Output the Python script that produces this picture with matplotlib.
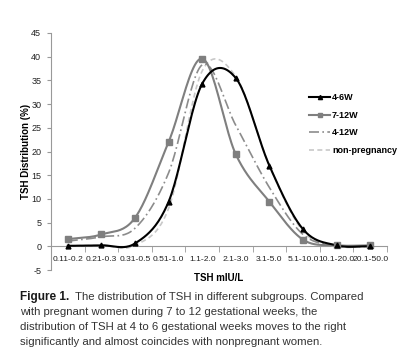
import numpy as np
import matplotlib.pyplot as plt
from matplotlib.lines import Line2D

plt.rcParams['font.family'] = ['Liberation Sans Narrow', 'Liberation Sans', 'DejaVu Sans']
plt.rcParams['axes.unicode_minus'] = False

# TSH ranges (mIU/L) on the x axis
categories = ['0.11-0.2', '0.21-0.3', '0.31-0.5', '0.51-1.0', '1.1-2.0',
              '2.1-3.0', '3.1-5.0', '5.1-10.0', '10.1-20.0', '20.1-50.0']
w4_6 = [0.1, 0.2, 0.6, 9.4, 34.3, 35.5, 17.0, 3.6, 0.2, 0.0]
w7_12 = [1.5, 2.5, 6.0, 22.0, 39.6, 19.4, 9.4, 1.4, 0.2, 0.2]
w4_12 = [1.1, 2.0, 3.8, 15.5, 38.3, 25.5, 12.4, 2.5, 0.1, 0.0]
nonpreg = [0.1, 0.2, 0.2, 8.0, 37.0, 35.8, 17.0, 3.2, 0.0, 0.0]


def smooth(y, n=24):
    # catmull-rom curve through the points, like excel's smoothed line
    y = np.asarray(y, float)
    x = np.arange(len(y), dtype=float)
    px = np.concatenate([[2 * x[0] - x[1]], x, [2 * x[-1] - x[-2]]])
    py = np.concatenate([[2 * y[0] - y[1]], y, [2 * y[-1] - y[-2]]])
    xs, ys = [], []
    t = np.linspace(0, 1, n)
    for i in range(1, len(px) - 2):
        for p, out in ((px, xs), (py, ys)):
            p0, p1, p2, p3 = p[i - 1], p[i], p[i + 1], p[i + 2]
            out.extend(0.5 * ((2 * p1) + (-p0 + p2) * t
                              + (2 * p0 - 5 * p1 + 4 * p2 - p3) * t ** 2
                              + (-p0 + 3 * p1 - 3 * p2 + p3) * t ** 3))
    return np.array(xs), np.array(ys)


fig = plt.figure(figsize=(4.05, 3.58), dpi=100)
ax = fig.add_axes([51 / 405, 1 - 270 / 358, 336 / 405, 237 / 358])

idx = np.arange(len(categories))
series = [
    (w4_6, '4-6W', dict(color='black', lw=1.5, ls='-'), '^', 'black'),
    (w7_12, '7-12W', dict(color='#7f7f7f', lw=1.5, ls='-'), 's', '#7f7f7f'),
    (w4_12, '4-12W', dict(color='#8c8c8c', lw=1.2, ls=(0, (6, 2, 1, 2))), None, None),
    (nonpreg, 'non-pregnancy', dict(color='#c8c8c8', lw=1.2, ls=(0, (3, 2))), None, None),
]
for vals, name, style, mk, mc in reversed(series):
    sx, sy = smooth(vals)
    ax.plot(sx, sy, zorder=3, **style)
    if mk:
        ax.plot(idx, vals, ls='none', marker=mk, ms=4.5 if mk == 's' else 3.5,
                color=mc, zorder=4)

handles = [
    Line2D([], [], color='black', lw=1.5, marker='^', ms=3),
    Line2D([], [], color='#7f7f7f', lw=1.5, marker='s', ms=3.5),
    Line2D([], [], color='#8c8c8c', lw=1.2, ls=(0, (6, 2, 1, 2))),
    Line2D([], [], color='#c8c8c8', lw=1.2, ls=(0, (3, 2))),
]
ax.legend(handles, [s[1] for s in series], loc='upper left',
          bbox_to_anchor=(0.745, 0.78), frameon=False,
          handlelength=2.3, handletextpad=0.2, labelspacing=0.95,
          prop={'weight': 'bold', 'size': 6.5})

ax.set_xlim(-0.5, len(categories) - 0.5)
ax.set_ylim(-5, 45)
ax.set_yticks(range(-5, 46, 5))
ax.set_xticks(idx)
ax.set_xticklabels(categories)
ax.set_xticks(np.arange(-0.5, len(categories), 1), minor=True)
ax.tick_params(axis='x', which='major', length=0, labelsize=6.1, pad=7, colors='#222222')
ax.tick_params(axis='x', which='minor', length=4, color='#999999')
ax.tick_params(axis='y', length=3, labelsize=6.5, color='#999999', colors='#222222', pad=4)

ax.spines['top'].set_visible(False)
ax.spines['right'].set_visible(False)
ax.spines['bottom'].set_position(('data', 0))
ax.spines['bottom'].set_color('#999999')
ax.spines['left'].set_color('#999999')
ax.spines['left'].set_linewidth(0.8)
ax.spines['bottom'].set_linewidth(0.8)

ax.set_ylabel('TSH Distribution (%)', fontsize=7, fontweight='bold', labelpad=0)
fig.text(219 / 405, 1 - 278 / 358, 'TSH mIU/L', fontsize=7, fontweight='bold',
         ha='center', va='center')

# caption
head = fig.text(20 / 405, 1 - 297 / 358, 'Figure 1.', fontsize=8.5, fontweight='bold',
                color='#1a1a1a', va='center')
fig.canvas.draw()
head_end = head.get_window_extent().x1 / 405
fig.text(head_end + 6 / 405, 1 - 297 / 358,
         'The distribution of TSH in different subgroups. Compared',
         fontsize=8.2, color='#333333', va='center')
caption_rest = ['with pregnant women during 7 to 12 gestational weeks, the',
                'distribution of TSH at 4 to 6 gestational weeks moves to the right',
                'significantly and almost coincides with nonpregnant women.']
for k, line in enumerate(caption_rest):
    fig.text(20 / 405, 1 - (312 + 15 * k) / 358, line, fontsize=8.2,
             color='#333333', va='center')

fig.savefig('out.png', dpi=100)
